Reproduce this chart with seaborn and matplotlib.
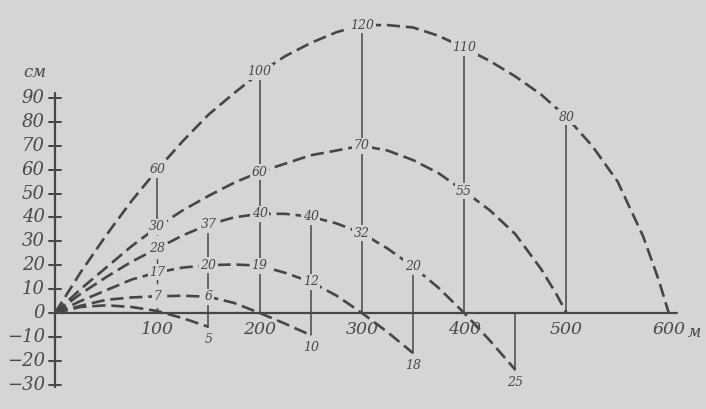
import numpy as np
import pandas as pd
import matplotlib
matplotlib.use("Agg")
import matplotlib.pyplot as plt
import seaborn as sns

# Trajectory data as drawn: distance (m) vs height (cm), one curve per sight setting
dist_100 = [0, 25, 50, 75, 100, 125, 150]
h_100 = [0, 2.5, 3.2, 2.5, 0.8, -2.2, -5.8]

dist_200 = [0, 25, 50, 75, 100, 125, 150, 175, 200, 225, 250]
h_200 = [0, 3, 5.5, 6.5, 7, 7.2, 6.8, 4.2, 0, -4.5, -9.3]

dist_300 = [0, 25, 50, 75, 100, 125, 150, 175, 200, 225, 250, 275, 300, 325, 350]
h_300 = [0, 5, 9.5, 14, 17, 19, 20, 20.3, 19.8, 16.8, 13, 7.3, 0, -8, -16.8]

dist_400 = [0, 25, 50, 75, 100, 125, 150, 175, 200, 225, 250, 275, 300, 325, 350,
            375, 400, 425, 450]
h_400 = [0, 8, 15, 21.5, 27, 32.5, 37, 40, 41.5, 41.5, 40.3, 37.5, 33.4, 27, 19.4,
         10.5, 0, -11.5, -23.8]

dist_500 = [0, 25, 50, 75, 100, 125, 150, 175, 200, 250, 300, 325, 350, 375, 400,
            425, 450, 475, 490, 500]
h_500 = [0, 10, 19, 28, 36, 43, 49, 54.5, 59, 66, 70, 68, 64, 58.5, 51,
         43, 33, 18.5, 8, 0]

dist_600 = [0, 25, 50, 75, 100, 125, 150, 175, 200, 225, 250, 275, 300, 325, 350,
            375, 400, 425, 450, 475, 500, 525, 550, 575, 590, 600]
h_600 = [0, 17, 32.5, 47, 60, 72, 83, 92, 100.5, 107.5, 113, 117.5, 120.5, 120.5, 119.5,
         116, 111, 105.5, 99, 91.5, 82, 70, 55, 32, 14, 0]

# Values written on the curves: text, distance, drawn height
label_txt = [60, 100, 120, 110, 80,
             30, 60, 70, 55,
             28, 37, 40, 40, 32, 20,
             17, 20, 19, 12,
             7, 6]
label_x = [100, 200, 300, 400, 500,
           100, 200, 300, 400,
           100, 150, 200, 250, 300, 350,
           100, 150, 200, 250,
           100, 150]
label_y = [60, 101, 120.5, 111, 82,
           36, 59, 70, 51,
           27, 37, 41.5, 40.3, 33.4, 19.4,
           17, 20, 19.8, 13,
           7, 6.8]

# Drop below the line of sight at the ends of the short curves
drop_txt = [5, 10, 18, 25]
drop_x = [150, 250, 350, 450]
drop_y = [-5.8, -9.3, -16.8, -23.8]

# Vertical measuring lines
vline_x = [100, 150, 200, 250, 300, 350, 400, 450, 500]
vline_top = [60, 37, 101, 40.3, 120.5, 19.4, 111, 0, 82]
vline_bot = [36, -5.8, 0, -9.3, 0, -16.8, 0, -23.8, 0]

y_ticks = list(range(-30, 100, 10))
x_ticks = [100, 200, 300, 400, 500, 600]

BG = "#d5d5d3"
INK = "#464646"
TXT = "#4a4a4a"

curves = pd.concat([
    pd.DataFrame({"dist": d, "h": h, "sight": s})
    for d, h, s in [(dist_100, h_100, 100), (dist_200, h_200, 200),
                    (dist_300, h_300, 300), (dist_400, h_400, 400),
                    (dist_500, h_500, 500), (dist_600, h_600, 600)]
], ignore_index=True)

sns.set_style("white")
fig = plt.figure(figsize=(7.06, 4.09), dpi=100, facecolor=BG)
ax = fig.add_axes([0, 0, 1, 1])
ax.set_facecolor(BG)
ax.set_xlim(-53.8, 636.4)
ax.set_ylim(-40.2, 131)
ax.axis("off")

for s, grp in curves.groupby("sight"):
    sns.lineplot(data=grp, x="dist", y="h", ax=ax, color=INK, lw=1.9,
                 linestyle=(0, (5, 2.2)), sort=False, legend=False, zorder=3)

# vertical lines
for x, t, b in zip(vline_x, vline_top, vline_bot):
    ax.plot([x, x], [b, t], color=INK, lw=1.1, zorder=2)
ax.plot([100, 100], [0, 36], color=INK, lw=1.0, linestyle=(0, (4, 3)), zorder=2)

# axes
ax.plot([0, 608], [0, 0], color=INK, lw=1.6, zorder=2)
ax.plot([0, 0], [-31, 92], color=INK, lw=1.6, zorder=2)
for yt in y_ticks:
    ax.plot([-5.5, 5.5], [yt, yt], color=INK, lw=1.4, zorder=2)
    ax.text(-10, yt, str(yt).replace("-", "\u2212"), ha="right", va="center",
            fontsize=13, family="DejaVu Serif", style="italic", color=TXT)
for xt in x_ticks:
    ax.text(xt, -3.5, str(xt), ha="center", va="top", fontsize=12.5,
            family="DejaVu Serif", style="italic", color=TXT)
ax.text(625, -4.5, "м", ha="center", va="top", fontsize=11.5,
        family="DejaVu Serif", style="italic", color=TXT)
ax.text(-20, 100.5, "см", ha="center", va="center", fontsize=12,
        family="DejaVu Serif", style="italic", color=TXT)

box = dict(facecolor=BG, edgecolor="none", pad=1.2)
for t, x, y in zip(label_txt, label_x, label_y):
    ax.text(x, y, str(t), ha="center", va="center", fontsize=9,
            family="DejaVu Serif", style="italic", color=TXT, bbox=box, zorder=5)
for t, x, y in zip(drop_txt, drop_x, drop_y):
    ax.text(x, y - 2.5, str(t), ha="center", va="top", fontsize=9,
            family="DejaVu Serif", style="italic", color=TXT, zorder=5)

fig.savefig("out.png", dpi=100, facecolor=BG)
